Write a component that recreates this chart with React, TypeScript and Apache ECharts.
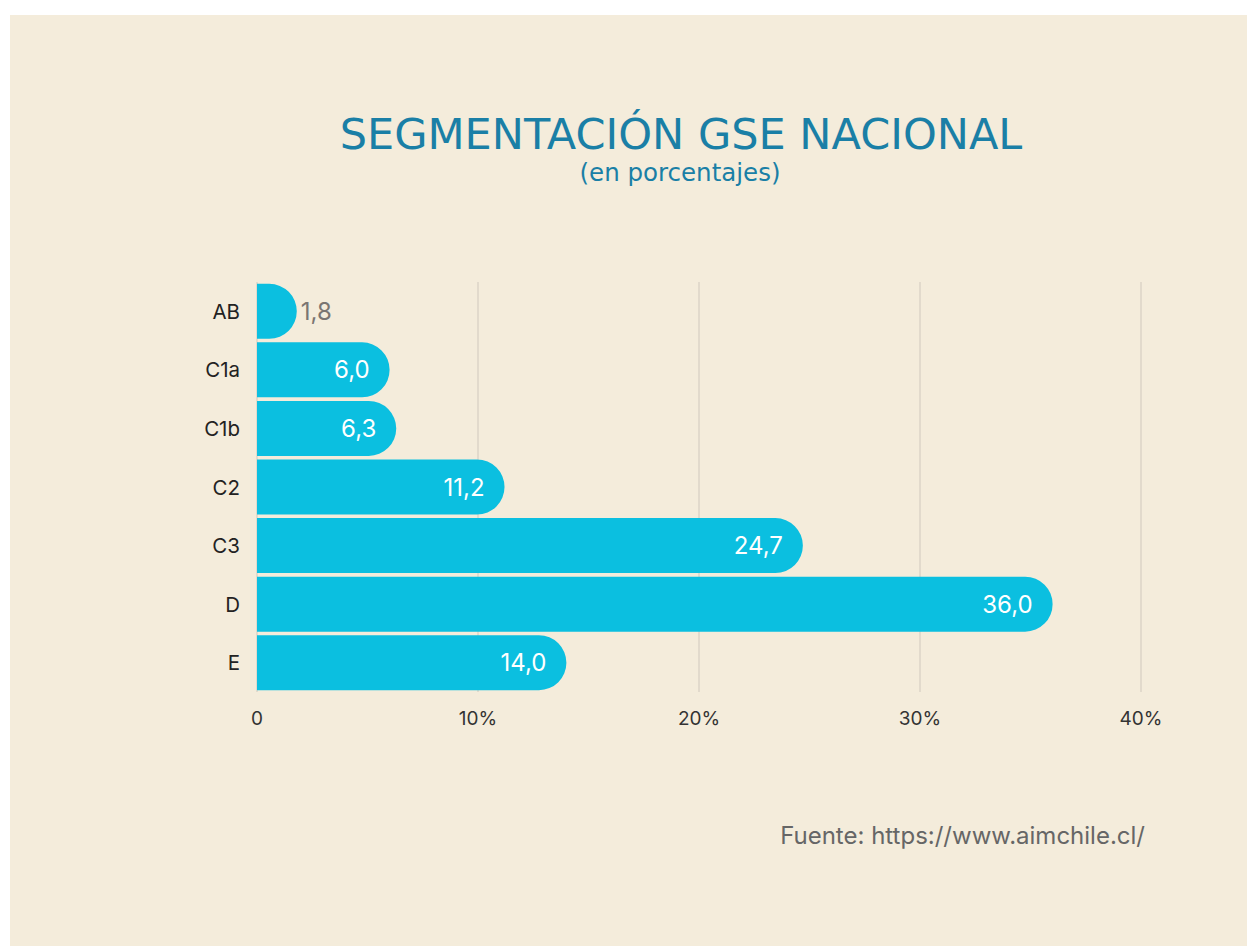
import React, { useEffect, useRef } from "react";
import * as echarts from "echarts";

const categories = ["AB", "C1a", "C1b", "C2", "C3", "D", "E"];
const values = [1.8, 6.0, 6.3, 11.2, 24.7, 36.0, 14.0];
const xTicks = [0, 10, 20, 30, 40];

export default function App() {
  const ref = useRef<HTMLDivElement>(null);
  useEffect(() => {
    document.body.style.margin = "0";
    const chart = echarts.init(ref.current!, null, { renderer: "svg" });
    const fmt = (v: number) => v.toFixed(1).replace(".", ",");
    chart.setOption({
      animation: false,
      backgroundColor: "#f4ecdb",
      title: [
        {
          text: "SEGMENTACIÓN GSE NACIONAL",
          left: 666,
          top: 92,
          textAlign: "center",
          textStyle: { fontFamily: "DejaVu Sans", fontSize: 43, fontWeight: "normal", color: "#1a7fa6" },
        },
        {
          text: "(en porcentajes)",
          left: 665,
          top: 140,
          textAlign: "center",
          textStyle: { fontFamily: "DejaVu Sans", fontSize: 24.5, fontWeight: "normal", color: "#1a7fa6" },
        },
      ],
      graphic: [
        {
          type: "text",
          right: 102,
          top: 808,
          style: { text: "Fuente: https://www.aimchile.cl/", font: "24px Inter", fill: "#666" },
        },
      ],
      grid: { left: 247, top: 267, width: 884, height: 410 },
      xAxis: {
        type: "value",
        min: 0,
        max: 40,
        interval: 10,
        axisLine: { show: false },
        axisTick: { show: false },
        splitLine: { show: true, lineStyle: { color: "#dcd5c7", width: 1.5 } },
        axisLabel: {
          margin: 17,
          fontFamily: "Inter",
          fontSize: 19,
          color: "#333",
          formatter: (v: number) => (v === 0 ? "0" : v + "%"),
          customValues: xTicks,
        },
      },
      yAxis: {
        type: "category",
        data: categories,
        inverse: true,
        axisLine: { show: false },
        axisTick: { show: false },
        axisLabel: { margin: 17, fontFamily: "Inter", fontSize: 20.5, color: "#222" },
      },
      series: [
        {
          type: "bar",
          data: values.map((v, i) => ({
            value: v,
            label:
              i === 0
                ? { position: "right", color: "#7a7572", distance: 4 }
                : { position: "insideRight", color: "#fff", distance: 20 },
          })),
          barWidth: 55,
          itemStyle: { color: "#0bbfe0", borderRadius: [0, 28, 28, 0] },
          label: {
            show: true,
            fontFamily: "Inter",
            fontSize: 24,
            formatter: (p: any) => fmt(p.value),
          },
        },
      ],
    });
    return () => chart.dispose();
  }, []);
  return (
    <div
      ref={ref}
      style={{ position: "absolute", left: 10, top: 15, width: 1237, height: 931 }}
    />
  );
}
